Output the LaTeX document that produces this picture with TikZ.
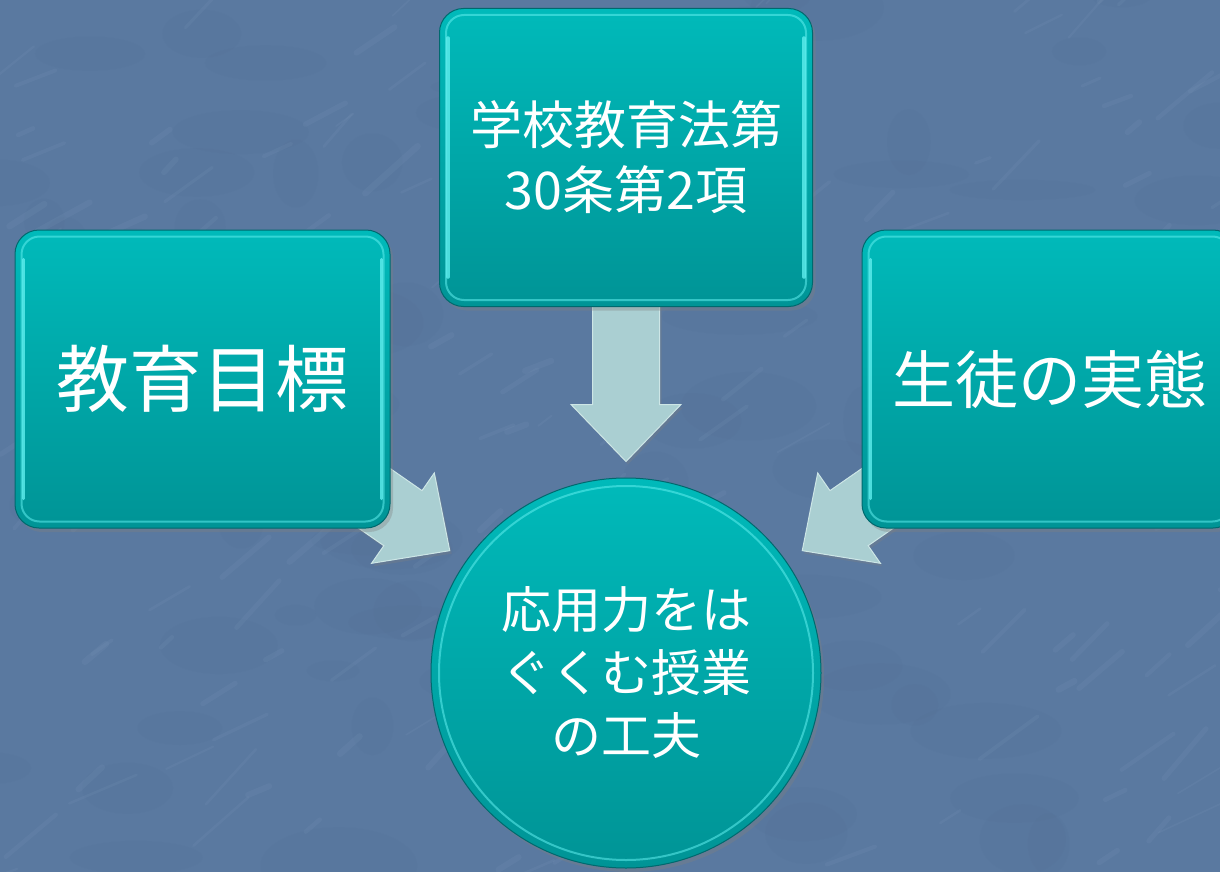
\documentclass[tikz,border=0pt]{standalone}
\usepackage{fontspec}
\newfontfamily\jpfont{Noto Sans CJK JP}
\usetikzlibrary{calc,shadows}
\pgfdeclarelayer{bg}
\pgfdeclarelayer{arr}
\pgfsetlayers{bg,arr,main}
\definecolor{bgblue}{RGB}{90,121,160}
\definecolor{bgstreak}{RGB}{150,175,205}
\definecolor{bgdark}{RGB}{70,98,135}
\definecolor{boxtop}{RGB}{0,186,186}
\definecolor{boxbot}{RGB}{0,148,150}
\definecolor{boxedge}{RGB}{0,105,110}
\definecolor{hlcyan}{RGB}{95,238,238}
\definecolor{arrfill}{RGB}{170,207,210}
\definecolor{arredge}{RGB}{205,230,230}
\newcommand\blockarrow[3]{%
  \coordinate (#3b) at ($(#2)!57pt!(#1.center)$);
  \draw[arrowst] ($(#1.center)!33.5pt!90:(#2)$) -- ($(#3b)!33.5pt!90:(#2)$)
     -- ($(#3b)!55pt!90:(#2)$) -- (#2) -- ($(#3b)!55pt!-90:(#2)$)
     -- ($(#3b)!33.5pt!-90:(#2)$) -- ($(#1.center)!33.5pt!-90:(#2)$) -- cycle;}
\begin{document}
\begin{tikzpicture}[x=1pt,y=-1pt,
  box/.style={rounded corners=24pt, top color=boxtop, bottom color=boxbot,
    draw=boxedge, line width=1pt, text=white, align=center,
    drop shadow={shadow xshift=3pt,shadow yshift=-4pt,opacity=0.35}},
  roundbox/.style={box, rounded corners=0pt, circle, minimum size=390pt, inner sep=0pt},
  hl/.style={draw=hlcyan, line width=2pt, opacity=0.55, rounded corners=18pt},
  hlv/.style={draw=hlcyan, line width=3.5pt, opacity=0.8, line cap=round},
  arrowst/.style={fill=arrfill, draw=arredge, line width=1pt, line join=miter,
    drop shadow={shadow xshift=2pt,shadow yshift=-3pt,opacity=0.3}}]
\useasboundingbox (0,0) rectangle (1220,872);
\begin{pgfonlayer}{bg}
  \fill[bgblue] (0,0) rectangle (1220,872);
  \pgfmathsetseed{11}
  \foreach \i in {1,...,90}{
    \pgfmathsetmacro\xx{rnd*1240-10}
    \pgfmathsetmacro\yy{rnd*890-10}
    \pgfmathsetmacro\ww{20+rnd*60}
    \pgfmathsetmacro\hh{10+rnd*30}
    \fill[bgdark, opacity=0.05] (\xx,\yy) ellipse[x radius=\ww pt, y radius=\hh pt];
  }
  \foreach \i in {1,...,170}{
    \pgfmathsetmacro\xx{rnd*1240-10}
    \pgfmathsetmacro\yy{rnd*890-10}
    \pgfmathsetmacro\ll{15+rnd*60}
    \pgfmathsetmacro\aa{-20-rnd*30}
    \pgfmathsetmacro\ww{1.5+rnd*5}
    \draw[bgstreak, opacity=0.09, line width=\ww pt, line cap=round]
      (\xx,\yy) -- ++(\aa:\ll);
  }
\end{pgfonlayer}

% nodes
\node[box, minimum width=373pt, minimum height=298pt,
  font={\jpfont\fontsize{52}{65}\selectfont}] (T) at (626,157.5)
  {学校教育法第\\30条第2項};
\node[box, minimum width=375pt, minimum height=298pt,
  font={\jpfont\fontsize{73}{80}\selectfont}] (L) at (202.5,379) {教育目標};
\node[box, minimum width=375pt, minimum height=298pt,
  font={\jpfont\fontsize{63}{70}\selectfont}] (R) at (1049.5,379) {生徒の実態};
\node[roundbox, font={\jpfont\fontsize{50}{63}\selectfont}] (C) at (626,673)
  {応用力をは\\ぐくむ授業\\の工夫};

% highlights
\foreach \n in {T,L,R}{
  \draw[hl] ($(\n.north west)+(7,7)$) rectangle ($(\n.south east)+(-7,-7)$);
  \draw[hlv] ($(\n.north west)+(9,30)$) -- ($(\n.south west)+(9,-30)$);
  \draw[hlv] ($(\n.north east)+(-9,30)$) -- ($(\n.south east)+(-9,-30)$);
}
\draw[draw=hlcyan, line width=2pt, opacity=0.55] (C.center) circle[radius=187pt];

% tips
\coordinate (tipT) at ($(C.north)+(0,-16)$);
\coordinate (tipL) at ($(L.center)!301pt!(C.center)$);
\coordinate (tipR) at ($(R.center)!301pt!(C.center)$);

\begin{pgfonlayer}{arr}
  \blockarrow{T}{tipT}{aT}
  \blockarrow{L}{tipL}{aL}
  \blockarrow{R}{tipR}{aR}
\end{pgfonlayer}
\end{tikzpicture}
\end{document}
